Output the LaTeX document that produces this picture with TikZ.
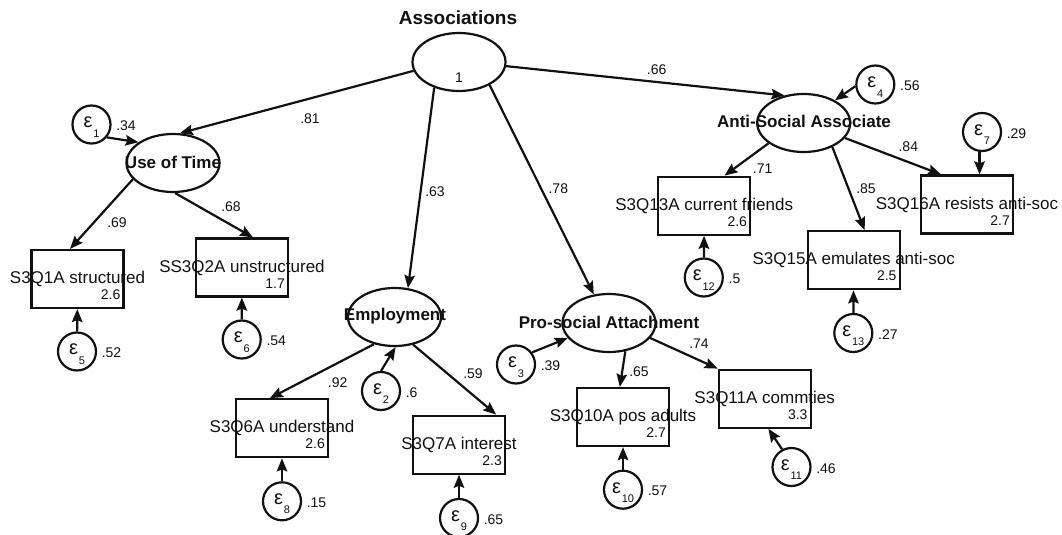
\documentclass[tikz,border=0pt]{standalone}
\usepackage{fontspec}
\setmainfont{Liberation Sans}
\usetikzlibrary{shapes.geometric,arrows.meta,calc}

\definecolor{ink}{HTML}{111111}

\tikzset{
  latent/.style={ellipse, draw=ink, line width=2.2pt, minimum width=93pt, minimum height=58pt, inner sep=0pt},
  obs/.style={rectangle, draw=ink, line width=2.2pt, minimum width=92pt, minimum height=58pt, inner sep=0pt},
  err/.style={circle, draw=ink, line width=2.2pt, minimum size=38pt, inner sep=0pt},
  sempath/.style={draw=ink, line width=2.2pt, -{Stealth[length=13pt,width=10.5pt,inset=2pt]}},
  num/.style={font=\fontsize{14}{16}\selectfont, text=ink, inner sep=0pt},
  vname/.style={font=\fontsize{17}{20}\selectfont, text=ink, inner sep=0pt},
  lname/.style={font=\bfseries\fontsize{17}{20}\selectfont, text=ink, inner sep=0pt},
  esym/.style={font=\fontsize{20}{22}\selectfont, text=ink, inner sep=0pt},
}

% observed indicator: box, name, mean
\newcommand{\semobs}[4]{%
  \node[obs] (#1) at (#2) {};
  \node[vname] (#1-t) at (#1.center) {#3};
  \node[num, anchor=east] (#1-v) at ($(#1.center)+(43,15.7)$) {#4};}

% error term: circle, epsilon with index, variance
\newcommand{\semerr}[4]{%
  \node[err] (#1) at (#2) {};
  \node[esym, anchor=base] (#1-t) at ($(#1.center)+(0,3.4)$) {ε\kern0.8pt\raisebox{-9.2pt}{\fontsize{11}{12}\selectfont #3}};
  \node[num, anchor=west] (#1-v) at ($(#1.east)+(4.5,1.3)$) {#4};}

\begin{document}
\begin{tikzpicture}[x=1pt,y=-1pt]
\fill[white] (0,0) rectangle (1062,535);
\useasboundingbox (0,0) rectangle (1062,535);

% latent factors
\node[latent] (A) at (459,62) {};
\node[num] (A-v) at (459,78) {1};
\node[lname, font=\bfseries\fontsize{19}{22}\selectfont] (A-t) at (458,18) {Associations};

\node[latent] (U) at (173,163) {};
\node[lname] (U-t) at (173,162) {Use of Time};
\node[latent] (E) at (394.5,317) {};
\node[lname] (E-t) at (395,316) {Employment};
\node[latent] (P) at (609,323) {};
\node[lname] (P-t) at (609,322) {Pro-social Attachment};
\node[latent] (S) at (803.7,123) {};
\node[lname] (S-t) at (804,121) {Anti-Social Associate};

% indicators
\semobs{b1}{77.5,279}{S3Q1A structured}{2.6}
\semobs{b2}{242,267.5}{SS3Q2A unstructured}{1.7}
\semobs{b6}{282,428.3}{S3Q6A understand}{2.6}
\semobs{b7}{459,444.7}{S3Q7A interest}{2.3}
\semobs{b10}{623,417}{S3Q10A pos adults}{2.7}
\semobs{b11}{764.7,398.7}{S3Q11A commties}{3.3}
\semobs{b13}{704.2,205.7}{S3Q13A current friends}{2.6}
\semobs{b15}{853.7,260.3}{S3Q15A emulates anti-soc}{2.5}
\semobs{b16}{967,204.5}{S3Q16A resists anti-soc}{2.7}

% error terms
\semerr{e1}{91.5,124.5}{1}{.34}
\semerr{e2}{381,391}{2}{.6}
\semerr{e3}{516,364.5}{3}{.39}
\semerr{e4}{875.3,84.5}{4}{.56}
\semerr{e5}{77,351.5}{5}{.52}
\semerr{e6}{241.7,339.5}{6}{.54}
\semerr{e7}{982,132}{7}{.29}
\semerr{e8}{282,501.3}{8}{.15}
\semerr{e9}{459,518}{9}{.65}
\semerr{e10}{623,489.7}{10}{.57}
\semerr{e11}{791.5,467}{11}{.46}
\semerr{e12}{703.8,277.5}{12}{.5}
\semerr{e13}{853.3,333}{13}{.27}

% structural paths
\draw[sempath] (A.191) -- (U.77);
\draw[sempath] (A.226) -- (E.65);
\draw[sempath] (A.323) -- (P.118);
\draw[sempath] (A.355) -- (S.125);

% loadings
\draw[sempath] (U.202) -- (b1.104);
\draw[sempath] (U.274) -- (b2.70);
\draw[sempath] (E.233) -- (b6.112);
\draw[sempath] (E.304) -- (b7.39);
\draw[sempath] (P.300) -- (b10.96);
\draw[sempath] (P.340) -- (b11.north west);
\draw[sempath] (S.210) -- (b13.56);
\draw[sempath] (S.320) -- (b15.70);
\draw[sempath] (S.340) -- (b16.131);

% error paths
\draw[sempath] (e1.320) -- (U.149);
\draw[sempath] (e2.90) -- (E.272);
\draw[sempath] (e3.37) -- (P.200);
\draw[sempath] (e4.185) -- (S.36);
\draw[sempath] (e5) -- (b1);
\draw[sempath] (e6) -- (b2);
\draw[sempath] (e7.263) -- (e7.263 |- b16.north);
\draw[sempath] (e8) -- (b6);
\draw[sempath] (e9) -- (b7);
\draw[sempath] (e10) -- (b10);
\draw[sempath] (e11.118) -- (b11.277);
\draw[sempath] (e12) -- (b13);
\draw[sempath] (e13) -- (b15);

% standardized coefficients
\node[num] (l81) at (310,118.8) {.81};
\node[num] (l63) at (435,192) {.63};
\node[num] (l78) at (558.3,188.3) {.78};
\node[num] (l66) at (656.7,70) {.66};
\node[num] (l69) at (117,222.5) {.69};
\node[num] (l68) at (231,207) {.68};
\node[num] (l92) at (337.7,383) {.92};
\node[num] (l59) at (473,374) {.59};
\node[num] (l65) at (639,371.7) {.65};
\node[num] (l74) at (699,344) {.74};
\node[num] (l71) at (762.7,168.3) {.71};
\node[num] (l85) at (866,188.3) {.85};
\node[num] (l84) at (908.3,146.7) {.84};
\end{tikzpicture}
\end{document}
